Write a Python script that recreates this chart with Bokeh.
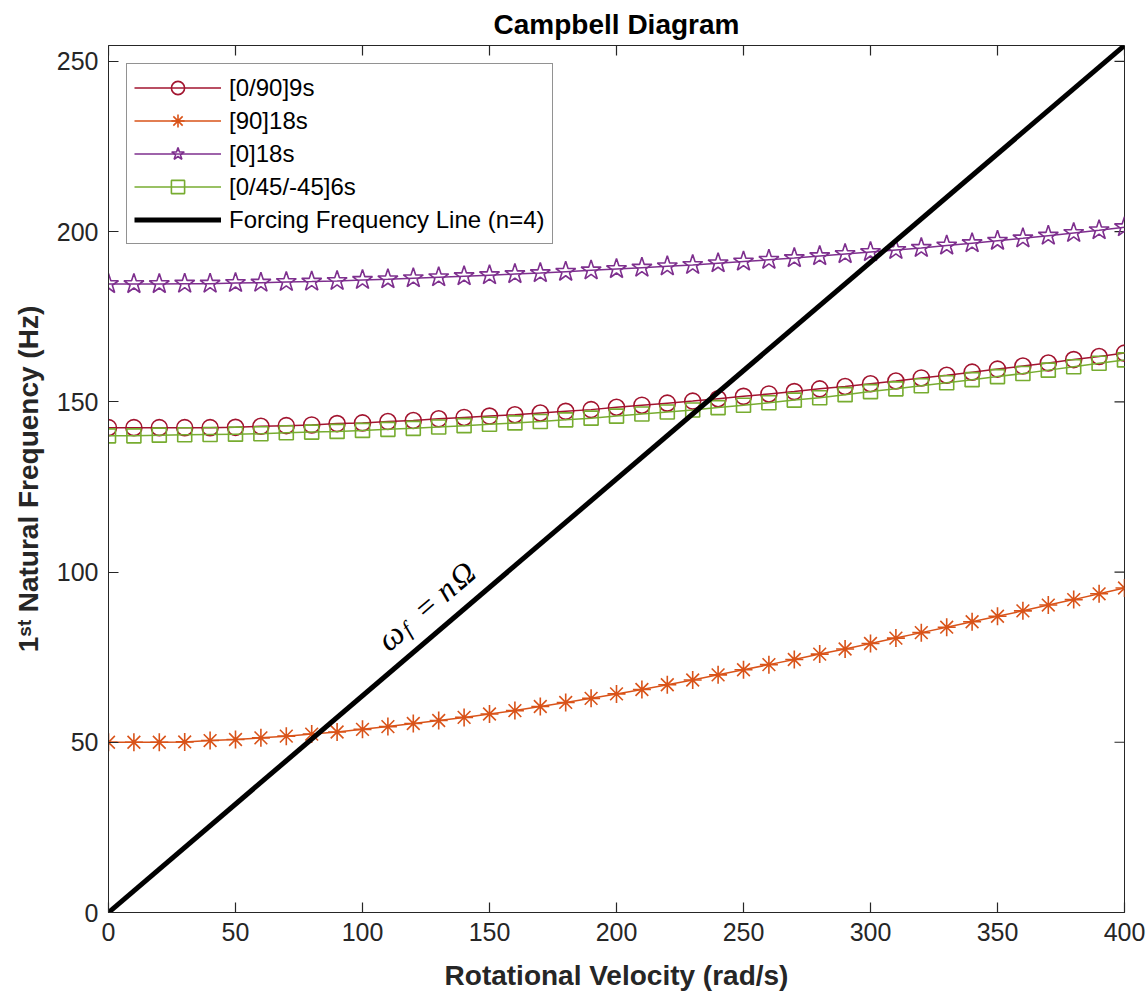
import math
from bokeh.plotting import figure
from bokeh.models import (Range1d, SingleIntervalTicker, Legend,
                          LegendItem, Label)
from bokeh.embed import file_html
from bokeh.resources import INLINE

# ---------------- data ----------------
omega = [0, 10, 20, 30, 40, 50, 60, 70, 80, 90, 100, 110, 120, 130, 140, 150,
         160, 170, 180, 190, 200, 210, 220, 230, 240, 250, 260, 270, 280, 290,
         300, 310, 320, 330, 340, 350, 360, 370, 380, 390, 400]

freq_0_90_9s = [142.4, 142.4, 142.4, 142.4, 142.4, 142.5, 142.8, 143.0, 143.2, 143.6,
                143.8, 144.2, 144.5, 145.0, 145.4, 145.8, 146.2, 146.7, 147.2, 147.7,
                148.4, 149.0, 149.6, 150.2, 150.9, 151.6, 152.3, 153.0, 153.8, 154.5,
                155.3, 156.1, 157.0, 157.8, 158.7, 159.6, 160.5, 161.4, 162.4, 163.3,
                164.3]

freq_90_18s = [50.0, 50.0, 50.0, 50.1, 50.5, 50.8, 51.3, 51.8, 52.4, 53.0,
               53.8, 54.6, 55.5, 56.4, 57.3, 58.3, 59.3, 60.5, 61.7, 62.9,
               64.2, 65.5, 66.9, 68.3, 69.8, 71.3, 72.8, 74.3, 75.9, 77.4,
               79.0, 80.6, 82.2, 83.8, 85.4, 87.0, 88.6, 90.3, 91.9, 93.6,
               95.3]

freq_0_18s = [184.6, 184.6, 184.6, 184.7, 184.7, 184.9, 185.0, 185.2, 185.3, 185.5,
              185.8, 186.0, 186.3, 186.6, 186.9, 187.2, 187.5, 187.8, 188.2, 188.6,
              189.0, 189.4, 189.8, 190.2, 190.7, 191.2, 191.7, 192.2, 192.8, 193.4,
              194.0, 194.6, 195.2, 195.9, 196.6, 197.3, 198.0, 198.8, 199.6, 200.4,
              201.3]

freq_0_45_m45_6s = [140.0, 140.0, 140.2, 140.3, 140.4, 140.5, 140.6, 140.9, 141.1, 141.3,
                    141.6, 141.9, 142.2, 142.6, 143.0, 143.4, 143.8, 144.2, 144.7, 145.2,
                    145.8, 146.4, 147.0, 147.6, 148.3, 149.0, 149.7, 150.5, 151.2, 152.1,
                    153.0, 153.8, 154.7, 155.6, 156.5, 157.4, 158.3, 159.3, 160.3, 161.3,
                    162.3]

series_labels = ["[0/90]9s", "[90]18s", "[0]18s", "[0/45/-45]6s"]
forcing_label = "Forcing Frequency Line (n=4)"
n_order = 4
forcing_omega = [0, 400]
forcing_freq = [n_order * w / (2 * math.pi) for w in forcing_omega]

x_tick_values = [0, 50, 100, 150, 200, 250, 300, 350, 400]
y_tick_values = [0, 50, 100, 150, 200, 250]

# ---------------- styling ----------------
FONT = "Liberation Sans"
AX = "#262626"
FRAME_W, FRAME_H = 1016, 867
X_MAX = forcing_omega[-1]
Y_MAX = forcing_freq[-1]

p = figure(frame_width=FRAME_W, frame_height=FRAME_H,
           output_backend="svg", toolbar_location=None,
           x_range=Range1d(0, X_MAX), y_range=Range1d(0, Y_MAX),
           min_border_left=108, min_border_right=24,
           min_border_top=45, min_border_bottom=88,
           background_fill_color="white", border_fill_color="white")

p.title.text = "Campbell Diagram"
p.title.align = "center"
p.title.text_font = FONT
p.title.text_font_style = "bold"
p.title.text_font_size = "28px"
p.title.text_color = "black"
p.title.standoff = 12
p.title.offset = 0

p.xgrid.visible = False
p.ygrid.visible = False
p.outline_line_color = AX
p.outline_line_width = 1

for ax, interval in ((p.xaxis[0], 50), (p.yaxis[0], 50)):
    ax.ticker = SingleIntervalTicker(interval=interval, num_minor_ticks=0)
    ax.major_tick_in = 10
    ax.major_tick_out = 0
    ax.minor_tick_line_color = None
    ax.axis_line_color = AX
    ax.major_tick_line_color = AX
    ax.major_tick_line_width = 1.2
    ax.major_label_text_font = FONT
    ax.major_label_text_color = AX
    ax.major_label_text_font_size = "25px"
    ax.major_label_standoff = 10
    ax.axis_label_text_font = FONT
    ax.axis_label_text_font_style = "bold"
    ax.axis_label_text_font_size = "28px"
    ax.axis_label_text_color = AX
p.xaxis[0].axis_label_standoff = 16
p.yaxis[0].axis_label_standoff = 10
p.xaxis[0].axis_label = "Rotational Velocity (rad/s)"
p.yaxis[0].axis_label = "1\u02e2\u1d57 Natural Frequency (Hz)"

# mirrored inward ticks on the top and right edges (clipped to the frame)
p.scatter([X_MAX] * len(y_tick_values), y_tick_values, marker="dash", size=20,
          line_color=AX, line_width=1.2)
p.scatter(x_tick_values, [Y_MAX] * len(x_tick_values), marker="dash", size=20,
          angle=math.pi / 2, line_color=AX, line_width=1.2)

# ---------------- series ----------------
specs = [
    (freq_0_90_9s, "#A2142F", "circle", 16),
    (freq_90_18s, "#D95319", "asterisk", 18),
    (freq_0_18s, "#7E2F8E", "star", 21),
    (freq_0_45_m45_6s, "#77AC30", "square", 14),
]
items = []
for (vals, col, mk, sz), lab in zip(specs, series_labels):
    ln = p.line(omega, vals, line_color=col, line_width=1.5)
    sc = p.scatter(omega, vals, marker=mk, size=sz, line_color=col,
                   line_width=1.6, fill_color=None)
    items.append(LegendItem(label=lab, renderers=[ln, sc]))

fl = p.line(forcing_omega, forcing_freq, line_color="black", line_width=5)
items.append(LegendItem(label=forcing_label, renderers=[fl]))

legend = Legend(items=items, location="top_left", margin=18, padding=7,
                spacing=0, label_height=33, glyph_height=33, glyph_width=87,
                label_standoff=8, label_text_font=FONT,
                label_text_font_size="24px", label_text_color="black",
                border_line_color=AX, border_line_width=1,
                background_fill_color="white", background_fill_alpha=1)
p.add_layout(legend)

# ---------------- annotation along the forcing line ----------------
theta = math.atan2(FRAME_H, FRAME_W)
anchor_w = 118
anchor_f = n_order * anchor_w / (2 * math.pi)
normal = 27
pieces = [("\u03c9", 0, 0, 34, "italic"),
          ("f", 17, -5, 22, "italic"),
          ("=", 46, 0, 32, "normal"),
          ("n", 72, 0, 32, "italic"),
          ("\u03a9", 94, 0, 32, "italic")]
for txt, along, dn, fs, style in pieces:
    h = normal + dn
    dx = along * math.cos(theta) - h * math.sin(theta)
    dy = along * math.sin(theta) + h * math.cos(theta)
    p.add_layout(Label(x=anchor_w, y=anchor_f, x_offset=dx, y_offset=dy,
                       text=txt, angle=theta, text_align="center",
                       text_baseline="middle", text_font="Liberation Serif",
                       text_font_style=style, text_font_size=f"{fs}px",
                       text_color="black"))

open("out.html", "w").write(file_html(p, INLINE))
